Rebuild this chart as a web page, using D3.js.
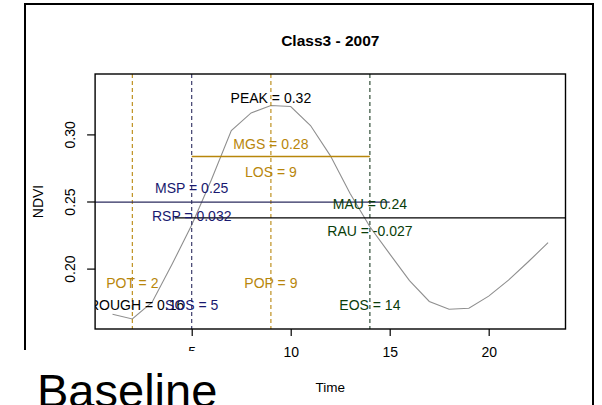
<!DOCTYPE html>
<html>
<head>
<meta charset="utf-8">
<script src="https://cdn.jsdelivr.net/npm/d3@7"></script>
<style>
body { margin: 0; background: white; }
svg { display: block; font-family: "Liberation Sans", Arial, sans-serif; }
</style>
</head>
<body>
<script>
// NDVI season curve, one value per time step
var times = [1, 2, 3, 4, 5, 6, 7, 8, 9, 10, 11, 12, 13, 14, 15, 16, 17, 18, 19, 20, 21, 22, 23];
var ndvi = [0.166, 0.1625, 0.175, 0.203, 0.2325, 0.2664, 0.3028, 0.316, 0.3215, 0.3208, 0.3066, 0.2842,
            0.256, 0.2312, 0.211, 0.191, 0.1755, 0.1697, 0.1705, 0.1795, 0.1914, 0.2051, 0.2193];

var xTicks = [5, 10, 15, 20];
var yTicks = [0.20, 0.25, 0.30];

// vertical markers (time) and horizontal markers (ndvi)
var vLines = [
    {"t": 2, "color": "#b8860b"},   // POT
    {"t": 5, "color": "#2b2b5e"},   // SOS
    {"t": 9, "color": "#b8860b"},   // POP
    {"t": 14, "color": "#1e3d26"}   // EOS
];
var hLines = [
    {"v": 0.2835, "t0": 5, "t1": 14, "color": "#b8860b"},       // MGS
    {"v": 0.2495, "t0": 0, "t1": 15, "color": "#2b2b5e"},       // MSP
    {"v": 0.2378, "t0": 4.15, "t1": 24, "color": "black"}       // MAU
];

// labels anchored in data units
var labels = [
    {"text": "PEAK = 0.32", "t": 9, "v": 0.3273, "color": "black"},
    {"text": "MGS = 0.28", "t": 9, "v": 0.2925, "color": "#b8860b"},
    {"text": "LOS = 9", "t": 9, "v": 0.2720, "color": "#b8860b"},
    {"text": "MSP = 0.25", "t": 5, "v": 0.2597, "color": "#191970"},
    {"text": "RSP = 0.032", "t": 5, "v": 0.2392, "color": "#191970"},
    {"text": "MAU = 0.24", "t": 14, "v": 0.2481, "color": "#0a3d0a"},
    {"text": "RAU = -0.027", "t": 14, "v": 0.2278, "color": "#0a3d0a"},
    {"text": "POT = 2", "t": 2, "v": 0.1894, "color": "#b8860b"},
    {"text": "POP = 9", "t": 9, "v": 0.1894, "color": "#b8860b"},
    {"text": "TROUGH = 0.16", "t": 2, "v": 0.1725, "color": "black"},
    {"text": "SOS = 5", "t": 5, "v": 0.1725, "color": "#191970"},
    {"text": "EOS = 14", "t": 14, "v": 0.1725, "color": "#0a3d0a"}
];

var W = 602, H = 405;
var box = {"left": 95.1, "right": 565.5, "top": 74, "bottom": 329};

var svg = d3.select("body").append("svg")
    .attr("width", W)
    .attr("height", H);

var x = d3.scaleLinear().domain([0.12, 23.88]).range([box.left, box.right]);
var y = d3.scaleLinear().domain([0.155, 0.345]).range([box.bottom, box.top]);

// outer frame of the figure
svg.append("path")
    .attr("d", "M25,350 L25,4 L593,4 L593," + H)
    .attr("fill", "none")
    .attr("stroke", "black")
    .attr("stroke-width", 2);

svg.append("text")
    .attr("x", (box.left + box.right) / 2)
    .attr("y", 46)
    .attr("text-anchor", "middle")
    .style("font-size", "15.5px")
    .style("font-weight", "bold")
    .text("Class3 - 2007");

svg.append("clipPath").attr("id", "clip")
    .append("rect")
    .attr("x", box.left).attr("y", box.top)
    .attr("width", box.right - box.left).attr("height", box.bottom - box.top);

var plot = svg.append("g").attr("clip-path", "url(#clip)");

// curve
var line = d3.line()
    .x(function(d, i) { return x(times[i]); })
    .y(function(d) { return y(d); });

plot.append("path")
    .datum(ndvi)
    .attr("d", line)
    .attr("fill", "none")
    .attr("stroke", "#8f8f8f")
    .attr("stroke-width", 1.1);

plot.selectAll(".vline")
    .data(vLines)
    .enter()
    .append("line")
    .attr("x1", function(d) { return x(d.t); })
    .attr("x2", function(d) { return x(d.t); })
    .attr("y1", box.top)
    .attr("y2", box.bottom)
    .attr("stroke", function(d) { return d.color; })
    .attr("stroke-width", 1.1)
    .attr("stroke-dasharray", "4,3");

plot.selectAll(".hline")
    .data(hLines)
    .enter()
    .append("line")
    .attr("x1", function(d) { return x(d.t0); })
    .attr("x2", function(d) { return x(d.t1); })
    .attr("y1", function(d) { return y(d.v); })
    .attr("y2", function(d) { return y(d.v); })
    .attr("stroke", function(d) { return d.color; })
    .attr("stroke-width", 1.4);

plot.selectAll(".lab")
    .data(labels)
    .enter()
    .append("text")
    .attr("x", function(d) { return x(d.t); })
    .attr("y", function(d) { return y(d.v); })
    .attr("dy", "0.35em")
    .attr("text-anchor", "middle")
    .style("font-size", "14px")
    .style("fill", function(d) { return d.color; })
    .text(function(d) { return d.text; });

// plot box
svg.append("rect")
    .attr("x", box.left).attr("y", box.top)
    .attr("width", box.right - box.left).attr("height", box.bottom - box.top)
    .attr("fill", "none")
    .attr("stroke", "black")
    .attr("stroke-width", 1.4);

// axes
var xAxis = svg.append("g")
    .attr("transform", "translate(0," + box.bottom + ")")
    .call(d3.axisBottom(x).tickValues(xTicks).tickSize(7).tickPadding(11).tickFormat(d3.format("d")));
xAxis.select(".domain").remove();
xAxis.selectAll("text").style("font-size", "14px").style("font-family", "Liberation Sans, Arial, sans-serif");

var yAxis = svg.append("g")
    .attr("transform", "translate(" + box.left + ",0)")
    .call(d3.axisLeft(y).tickValues(yTicks).tickSize(8).tickFormat(d3.format(".2f")));
yAxis.select(".domain").remove();
yAxis.selectAll("text")
    .attr("x", null).attr("dy", null)
    .attr("text-anchor", "middle")
    .attr("transform", "translate(-20,0) rotate(-90)")
    .style("font-size", "14px")
    .style("font-family", "Liberation Sans, Arial, sans-serif");
yAxis.selectAll("line").attr("stroke-width", 1.2);
xAxis.selectAll("line").attr("stroke-width", 1.2);

svg.append("text")
    .attr("transform", "translate(43," + (box.top + box.bottom) / 2 + ") rotate(-90)")
    .attr("text-anchor", "middle")
    .style("font-size", "14px")
    .text("NDVI");

svg.append("text")
    .attr("x", (box.left + box.right) / 2)
    .attr("y", 392)
    .attr("text-anchor", "middle")
    .style("font-size", "13.5px")
    .text("Time");

// white caption box laid over the lower left corner
svg.append("rect")
    .attr("x", 0).attr("y", 351)
    .attr("width", 240).attr("height", H - 351)
    .attr("fill", "white");

svg.append("text")
    .attr("x", 37)
    .attr("y", 407)
    .style("font-size", "47px")
    .text("Baseline");
</script>
</body>
</html>
